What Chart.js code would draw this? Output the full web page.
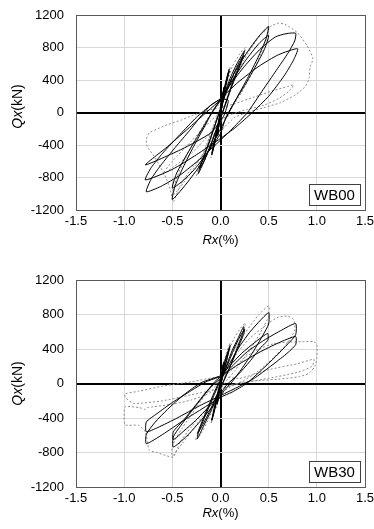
<!DOCTYPE html>
<html>
<head>
<meta charset="utf-8">
<script src="https://cdn.jsdelivr.net/npm/chart.js@4"></script>
<style>
  body { margin: 0; background: #fff; }
  canvas { display: block; }
</style>
</head>
<body>
<canvas id="wb00" width="374" height="265"></canvas>
<canvas id="wb30" width="374" height="264"></canvas>
<script>
// axis ticks
const xTicks = [-1.5, -1.0, -0.5, 0.0, 0.5, 1.0, 1.5];
const yTicks = [-1200, -800, -400, 0, 400, 800, 1200];

// WB00 experiment (solid) [Rx %, Qx kN]
const wb00ExpSmall = [
  [0,0],[0.015,150],[0.035,300],[0.02,170],[0,20],[-0.015,-130],[-0.03,-280],[-0.015,-140],
  [0.005,40],[0.02,180],[0.035,310],[0.015,120],[-0.01,-80],[-0.03,-290],[-0.01,-90],[0.01,60],
  [0.04,300],[0.07,450],[0.09,530],[0.06,380],[0.03,180],[0,-30],[-0.04,-250],[-0.07,-430],
  [-0.09,-520],[-0.06,-360],[-0.02,-120],[0.01,80],[0.05,330],[0.09,510],[0.06,350],[0.02,100],
  [-0.02,-130],[-0.06,-380],[-0.09,-500],[-0.05,-280],[0,10]
];
const wb00ExpMid = [
  [0.05,250],[0.1,420],[0.17,600],[0.25,760],[0.21,620],[0.14,420],[0.07,180],[0.02,0],
  [-0.04,-200],[-0.1,-400],[-0.17,-600],[-0.23,-750],[-0.19,-600],[-0.12,-380],[-0.05,-130],[0,50],
  [0.06,250],[0.14,480],[0.2,630],[0.24,700],[0.19,540],[0.11,300],[0.04,60],[-0.03,-170],
  [-0.11,-420],[-0.18,-620],[-0.22,-690],[-0.16,-500],[-0.07,-200],[0,40],
  [0.06,280],[0.15,500],[0.27,730],[0.4,940],[0.5,1060],[0.47,900],[0.39,680],[0.28,420],
  [0.16,160],[0.08,-20],[0,-200],[-0.1,-420],[-0.23,-680],[-0.37,-900],[-0.5,-1070],[-0.47,-900],
  [-0.39,-680],[-0.28,-420],[-0.16,-160],[-0.07,40],[0,160],[0.12,390],[0.26,640],[0.4,850],
  [0.5,950],[0.46,790],[0.37,580],[0.25,330],[0.13,100],[0.05,-80],[0,-260],[-0.12,-470],
  [-0.27,-700],[-0.4,-850],[-0.5,-930],[-0.46,-760],[-0.37,-560],[-0.25,-320],[-0.12,-60],[0,150]
];
const wb00ExpLarge = [
  [0.1,340],[0.25,570],[0.42,790],[0.57,930],[0.68,970],[0.78,975],[0.77,880],[0.7,730],
  [0.58,520],[0.43,260],[0.28,0],[0.13,-190],[0,-340],[-0.2,-560],[-0.42,-770],[-0.62,-910],
  [-0.77,-975],[-0.72,-820],[-0.62,-650],[-0.47,-430],[-0.32,-220],[-0.2,-40],[-0.1,90],[0,170],
  [0.18,370],[0.4,570],[0.6,710],[0.8,785],[0.76,650],[0.66,450],[0.5,200],[0.33,0],
  [0.16,-180],[0,-320],[-0.25,-520],[-0.5,-700],[-0.78,-830],[-0.72,-680],[-0.6,-500],[-0.42,-270],
  [-0.25,-60],[-0.1,90],[0,160],[0.08,150],[0.03,-50],[-0.1,-250],[-0.4,-450],[-0.78,-645],
  [-0.55,-420],[-0.3,-160],[0,155]
];

// WB00 analysis (dashed)
const wb00AnaSmall = [
  [0,0],[0.02,200],[0.04,320],[0.02,150],[-0.02,-160],[-0.04,-320],[-0.02,-150],[0.02,170],
  [0.06,400],[0.1,560],[0.07,380],[0.02,100],[-0.03,-180],[-0.07,-420],[-0.1,-560],[-0.06,-340],
  [-0.01,-60],[0.05,300],[0.12,560],[0.2,720],[0.26,800],[0.2,600],[0.12,330],[0.04,60],
  [-0.04,-200],[-0.12,-470],[-0.2,-680],[-0.25,-780],[-0.19,-560],[-0.1,-260],[-0.02,0],[0.06,250],
  [0.15,520],[0.24,740],[0.19,540],[0.1,250],[0.02,0],[-0.07,-300],[-0.16,-560],[-0.24,-720],
  [-0.17,-480],[-0.07,-150],[0,40]
];
const wb00AnaLarge = [
  [0.1,350],[0.22,640],[0.36,880],[0.45,1000],[0.5,1030],[0.46,850],[0.36,560],[0.22,250],
  [0.1,30],[0,-120],[-0.12,-380],[-0.25,-640],[-0.38,-860],[-0.46,-980],[-0.5,-1020],[-0.46,-820],
  [-0.35,-520],[-0.2,-200],[-0.08,20],[0,120],
  [0.12,380],[0.28,720],[0.42,960],[0.52,1060],[0.6,1100],[0.68,1080],[0.8,980],[0.9,820],
  [0.96,660],[0.93,560],[0.92,420],[0.88,320],[0.78,220],[0.62,120],[0.45,60],[0.3,10],
  [0.15,-60],[0.04,-180],[-0.08,-350],[-0.2,-540],[-0.32,-720],[-0.42,-900],[-0.49,-1100],[-0.52,-960],
  [-0.56,-820],[-0.62,-680],[-0.7,-520],[-0.76,-420],[-0.77,-330],[-0.74,-250],[-0.65,-200],[-0.55,-150],
  [-0.4,-90],[-0.3,-40],[-0.15,20],[0,60],
  [0.15,110],[0.35,190],[0.55,270],[0.7,320],[0.76,340],[0.72,270],[0.6,170],[0.45,90],
  [0.28,40],[0.12,-20],[0,-100],[-0.1,-250],[-0.3,-500],[-0.5,-680],[-0.6,-760],[-0.5,-600],
  [-0.3,-350],[-0.1,-100],[0,0]
];

// WB30 experiment (solid)
const wb30ExpSmall = [
  [0,0],[0.015,120],[0.03,230],[0.015,110],[0,0],[-0.015,-110],[-0.03,-220],[-0.015,-100],
  [0,10],[0.02,160],[0.035,250],[0.01,60],[-0.02,-140],[-0.035,-240],[-0.01,-50],[0.02,120],
  [0.05,280],[0.08,380],[0.1,440],[0.07,300],[0.03,120],[0,-20],[-0.04,-200],[-0.07,-340],
  [-0.09,-430],[-0.06,-280],[-0.02,-80],[0.01,50],[0.05,260],[0.09,400],[0.06,250],[0.02,60],
  [-0.02,-110],[-0.06,-300],[-0.09,-420],[-0.05,-200],[0,20]
];
const wb30ExpMid = [
  [0.06,200],[0.12,380],[0.18,520],[0.24,660],[0.24,610],[0.18,430],[0.1,200],[0.03,20],
  [-0.04,-150],[-0.1,-320],[-0.17,-480],[-0.24,-640],[-0.23,-570],[-0.16,-380],[-0.08,-170],[0,40],
  [0.07,210],[0.14,400],[0.2,540],[0.25,630],[0.24,570],[0.17,380],[0.09,170],[0.02,0],
  [-0.06,-190],[-0.13,-360],[-0.2,-510],[-0.24,-580],[-0.22,-520],[-0.14,-300],[-0.06,-90],[0,50],
  [0.08,200],[0.18,400],[0.3,590],[0.42,740],[0.5,820],[0.5,690],[0.44,560],[0.34,370],
  [0.22,170],[0.12,20],[0.04,-80],[0,-150],[-0.1,-290],[-0.22,-450],[-0.35,-610],[-0.49,-737],
  [-0.49,-620],[-0.42,-500],[-0.3,-320],[-0.18,-150],[-0.06,20],[0,80],[0.1,210],[0.22,350],
  [0.36,480],[0.49,580],[0.49,500],[0.42,420],[0.3,250],[0.18,100],[0.06,-20],[0,-120],
  [-0.12,-270],[-0.26,-430],[-0.38,-550],[-0.49,-650],[-0.49,-560],[-0.38,-420],[-0.25,-240],[-0.12,-60],[0,60]
];
const wb30ExpLarge = [
  [0.12,200],[0.28,370],[0.45,500],[0.62,610],[0.78,695],[0.78,565],[0.7,460],[0.57,310],
  [0.42,150],[0.27,0],[0.12,-100],[0,-160],[-0.2,-300],[-0.4,-440],[-0.6,-590],[-0.77,-698],
  [-0.77,-590],[-0.68,-450],[-0.55,-300],[-0.38,-130],[-0.2,10],[0,90],[0.2,230],[0.4,360],
  [0.6,470],[0.78,545],[0.78,450],[0.68,340],[0.52,200],[0.35,60],[0.2,-30],[0,-140],
  [-0.22,-260],[-0.45,-400],[-0.65,-510],[-0.77,-560],[-0.77,-446],[-0.66,-350],[-0.5,-220],[-0.3,-80],
  [-0.15,20],[0,80]
];

// WB30 analysis (dashed)
const wb30AnaSmall = [
  [0,0],[0.02,180],[0.04,280],[0.02,130],[-0.02,-140],[-0.04,-280],[-0.02,-130],[0.02,150],
  [0.06,350],[0.1,470],[0.07,320],[0.02,80],[-0.03,-160],[-0.07,-360],[-0.1,-470],[-0.06,-290],
  [-0.01,-50],[0.06,300],[0.14,520],[0.22,660],[0.26,700],[0.2,500],[0.12,260],[0.04,40],
  [-0.04,-180],[-0.12,-400],[-0.2,-580],[-0.26,-660],[-0.19,-460],[-0.1,-200],[0,40]
];
const wb30AnaLarge = [
  [0.1,300],[0.25,580],[0.4,800],[0.5,900],[0.5,780],[0.42,600],[0.3,380],[0.15,150],
  [0.04,0],[-0.08,-200],[-0.25,-480],[-0.4,-700],[-0.5,-840],[-0.5,-720],[-0.4,-520],[-0.25,-280],
  [-0.1,-50],[0,60],
  [0.1,250],[0.3,520],[0.5,700],[0.6,770],[0.7,780],[0.76,740],[0.77,620],[0.7,480],
  [0.55,300],[0.4,150],[0.25,40],[0.1,-40],[0,-120],[-0.15,-300],[-0.3,-500],[-0.42,-680],
  [-0.49,-853],[-0.57,-834],[-0.66,-800],[-0.74,-770],[-0.78,-560],[-0.85,-485],[-0.99,-480],[-1.0,-380],
  [-0.99,-270],[-0.84,-280],[-0.78,-300],[-0.76,-280],[-0.7,-270],[-0.5,-240],[-0.3,-190],[-0.1,-100],[0,60],
  [0.1,140],[0.25,300],[0.4,400],[0.55,460],[0.7,480],[0.85,485],[0.97,485],[1.0,450],
  [1.0,300],[0.98,200],[0.92,120],[0.82,80],[0.6,50],[0.4,35],[0.2,10],[0.05,-40],
  [0,-60],[-0.3,-130],[-0.6,-200],[-0.9,-230],[-0.99,-160],[-0.99,-120],[-0.85,-90],[-0.6,-30],
  [-0.3,20],[0,80],[0.2,60],[0.5,160],[0.8,230],[0.97,280],[0.95,200],[0.8,130],
  [0.5,60],[0.2,0],[0,-60]
];

const fontFamily = "'Liberation Sans', Arial, sans-serif";
const tickFont = { family: fontFamily, size: 13 };

function toPoints(...parts) {
  return [].concat(...parts).map(p => ({ x: p[0], y: p[1] }));
}

function drawMixed(ctx, parts, cx, cy, size) {
  let total = 0;
  parts.forEach(p => {
    ctx.font = p[1] + size + 'px ' + fontFamily;
    total += ctx.measureText(p[0]).width;
  });
  let x = cx - total / 2;
  ctx.textAlign = 'left';
  parts.forEach(p => {
    ctx.font = p[1] + size + 'px ' + fontFamily;
    ctx.fillText(p[0], x, cy);
    x += ctx.measureText(p[0]).width;
  });
}

const labelsPlugin = {
  id: 'labels',
  afterDraw(chart) {
    const ctx = chart.ctx;
    const a = chart.chartArea;
    const opts = chart.options.plugins.labels;
    ctx.save();
    ctx.fillStyle = '#000';
    ctx.textBaseline = 'middle';
    // x title
    drawMixed(ctx, [['Rx', 'italic '], ['(%)', '']], (a.left + a.right) / 2, a.bottom + opts.xTitleGap, 13);
    // y title
    ctx.save();
    ctx.translate(18, (a.top + a.bottom) / 2 + opts.yTitleShift);
    ctx.rotate(-Math.PI / 2);
    drawMixed(ctx, [['Qx', 'italic '], ['(kN)', '']], 0, 0, 14);
    ctx.restore();
    // specimen box
    const bw = 51, bh = 21;
    const bx = a.right - 5 - bw, by = a.bottom - 5 - bh;
    ctx.fillStyle = '#fff';
    ctx.fillRect(bx, by, bw, bh);
    ctx.strokeStyle = '#404040';
    ctx.lineWidth = 1;
    ctx.strokeRect(Math.round(bx) + 0.5, Math.round(by) + 0.5, bw, bh);
    ctx.fillStyle = '#000';
    ctx.font = '15px ' + fontFamily;
    ctx.textAlign = 'center';
    ctx.fillText(opts.name, bx + bw / 2, by + bh / 2 + 1);
    ctx.restore();
  }
};

function makeChart(id, name, exp, ana, xAxisHeight, xTitleGap, yTitleShift) {
  new Chart(document.getElementById(id), {
    type: 'scatter',
    data: {
      datasets: [
        {
          data: exp,
          showLine: true,
          borderColor: '#000',
          borderWidth: 1,
          pointRadius: 0,
          tension: 0.2
        },
        {
          data: ana,
          showLine: true,
          borderColor: '#8c8c8c',
          borderWidth: 1,
          borderDash: [2, 2],
          pointRadius: 0,
          tension: 0.2
        }
      ]
    },
    options: {
      responsive: false,
      animation: false,
      layout: { padding: { top: 15, right: 9, left: 0, bottom: 0 } },
      plugins: {
        legend: { display: false },
        tooltip: { enabled: false },
        labels: { name, xTitleGap, yTitleShift }
      },
      scales: {
        x: {
          type: 'linear',
          min: -1.5,
          max: 1.5,
          afterBuildTicks: s => { s.ticks = xTicks.map(v => ({ value: v })); },
          afterFit: s => { s.height = xAxisHeight; s.paddingLeft = 0; s.paddingRight = 0; },
          ticks: {
            font: tickFont,
            color: '#000',
            padding: 4,
            maxRotation: 0,
            callback: v => v.toFixed(1)
          },
          grid: {
            drawTicks: false,
            color: c => c.tick.value === 0 ? '#000' : (c.tick.value === 1.5 ? '#595959' : '#d9d9d9'),
            lineWidth: c => c.tick.value === 0 ? 2 : 1
          },
          border: { color: '#595959', width: 1 }
        },
        y: {
          type: 'linear',
          min: -1200,
          max: 1200,
          afterBuildTicks: s => { s.ticks = yTicks.map(v => ({ value: v })); },
          afterFit: s => { s.width = 76; s.paddingTop = 0; s.paddingBottom = 0; },
          ticks: {
            font: tickFont,
            color: '#000',
            padding: 12,
            callback: v => String(v)
          },
          grid: {
            drawTicks: false,
            color: c => c.tick.value === 0 ? '#000' : (c.tick.value === 1200 ? '#595959' : '#d9d9d9'),
            lineWidth: c => c.tick.value === 0 ? 2 : 1
          },
          border: { color: '#595959', width: 1 }
        }
      }
    },
    plugins: [labelsPlugin]
  });
}

makeChart('wb00', 'WB00',
  toPoints(wb00ExpSmall, wb00ExpMid, wb00ExpLarge),
  toPoints(wb00AnaSmall, wb00AnaLarge), 55, 30, -6);
makeChart('wb30', 'WB30',
  toPoints(wb30ExpSmall, wb30ExpMid, wb30ExpLarge),
  toPoints(wb30AnaSmall, wb30AnaLarge), 42, 26, 0);
</script>
</body>
</html>
